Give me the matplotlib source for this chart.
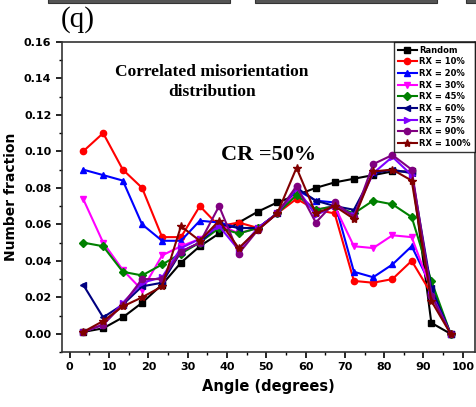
import matplotlib
matplotlib.use("Agg")
import matplotlib.pyplot as plt
from matplotlib.patches import Rectangle
from matplotlib.ticker import MultipleLocator, FormatStrFormatter

# Bin centres (degrees)
angles = [3.4, 8.5, 13.5, 18.4, 23.5, 28.3, 33.1, 38.0, 43.0, 47.9,
          52.8, 57.7, 62.6, 67.4, 72.3, 77.2, 82.1, 87.0, 92.0, 96.9]

random_ = [0.001, 0.003, 0.009, 0.017, 0.027, 0.039, 0.048, 0.055, 0.061, 0.067,
           0.072, 0.076, 0.080, 0.083, 0.085, 0.087, 0.089, 0.089, 0.006, 0.000]
rx10 = [0.100, 0.110, 0.090, 0.080, 0.053, 0.053, 0.070, 0.059, 0.061, 0.058,
        0.066, 0.074, 0.068, 0.066, 0.029, 0.028, 0.030, 0.040, 0.022, 0.000]
rx20 = [0.090, 0.087, 0.084, 0.060, 0.051, 0.051, 0.062, 0.061, 0.058, 0.058,
        0.066, 0.079, 0.073, 0.072, 0.034, 0.031, 0.038, 0.048, 0.026, 0.000]
rx30 = [0.074, 0.050, 0.035, 0.024, 0.043, 0.048, 0.052, 0.060, 0.055, 0.058,
        0.066, 0.077, 0.068, 0.070, 0.048, 0.047, 0.054, 0.053, 0.024, 0.000]
rx45 = [0.050, 0.048, 0.034, 0.032, 0.038, 0.044, 0.050, 0.058, 0.055, 0.058,
        0.066, 0.076, 0.068, 0.070, 0.066, 0.073, 0.071, 0.064, 0.029, 0.000]
rx60 = [0.027, 0.009, 0.016, 0.026, 0.028, 0.045, 0.050, 0.060, 0.058, 0.058,
        0.066, 0.080, 0.073, 0.070, 0.068, 0.088, 0.090, 0.088, 0.025, 0.000]
rx75 = [0.001, 0.005, 0.017, 0.028, 0.031, 0.047, 0.052, 0.059, 0.046, 0.058,
        0.066, 0.080, 0.065, 0.070, 0.065, 0.088, 0.097, 0.087, 0.022, 0.000]
rx90 = [0.001, 0.005, 0.016, 0.030, 0.030, 0.045, 0.050, 0.070, 0.044, 0.057,
        0.066, 0.081, 0.061, 0.072, 0.064, 0.093, 0.098, 0.090, 0.021, 0.000]
rx100 = [0.001, 0.007, 0.015, 0.020, 0.026, 0.059, 0.051, 0.062, 0.047, 0.057,
         0.066, 0.091, 0.066, 0.070, 0.063, 0.089, 0.090, 0.084, 0.018, 0.000]

series = [
    ("Random", random_, "#000000", "s"),
    ("RX = 10%", rx10, "#ff0000", "o"),
    ("RX = 20%", rx20, "#0000ff", "^"),
    ("RX = 30%", rx30, "#ff00ff", "v"),
    ("RX = 45%", rx45, "#008000", "D"),
    ("RX = 60%", rx60, "#000080", "<"),
    ("RX = 75%", rx75, "#8000ff", ">"),
    ("RX = 90%", rx90, "#800080", "o"),
    ("RX = 100%", rx100, "#800000", "*"),
]

fig = plt.figure(figsize=(4.76, 4.07), dpi=100)

# edges of the neighbouring panels above
for x0, w in [(0.101, 0.383), (0.536, 0.382), (0.98, 0.03)]:
    fig.add_artist(Rectangle((x0, 0.993), w, 0.01, transform=fig.transFigure,
                             facecolor="#555555", edgecolor="#333333",
                             linewidth=0.8))

ax = fig.add_axes([0.130, 0.135, 0.867, 0.762])

for label, vals, color, marker in series:
    ms = 6 if marker == "*" else 4.5
    ax.plot(angles, vals, color=color, marker=marker, markersize=ms,
            linewidth=1.5, label=label)

ax.set_xlim(-2, 103)
ax.set_ylim(-0.01, 0.16)
ax.xaxis.set_major_locator(MultipleLocator(10))
ax.xaxis.set_minor_locator(MultipleLocator(5))
ax.yaxis.set_minor_locator(MultipleLocator(0.01))
ax.yaxis.set_major_formatter(FormatStrFormatter("%.2f"))
ax.set_yticks([0.00, 0.02, 0.04, 0.06, 0.08, 0.10, 0.12, 0.14, 0.16])
ax.tick_params(which="major", direction="out", length=4, width=1.2,
               labelsize=8, top=False, right=False)
ax.tick_params(which="minor", direction="out", length=2.5, width=1,
               top=False, right=False)
for lab in ax.get_xticklabels() + ax.get_yticklabels():
    lab.set_fontweight("bold")
for sp in ax.spines.values():
    sp.set_linewidth(1.2)
    sp.set_color("#333333")

ax.set_xlabel("Angle (degrees)", fontsize=10.5, fontweight="bold", labelpad=5)
ax.set_ylabel("Number fraction", fontsize=10, fontweight="bold", labelpad=4)

ax.text(0.364, 0.871, "Correlated misorientation\ndistribution",
        transform=ax.transAxes, ha="center", va="center",
        family="Liberation Serif", fontweight="bold", fontsize=12.5,
        linespacing=1.3)
ax.text(0.502, 0.635, "CR =50%", transform=ax.transAxes, ha="center",
        va="center", family="Liberation Serif", fontweight="bold",
        fontsize=16)

fig.text(0.128, 0.952, "(q)", ha="left", va="center",
         family="Liberation Serif", fontsize=21)

leg = ax.legend(loc="upper right", frameon=True, fancybox=False,
                edgecolor="black", borderpad=0.45, labelspacing=0.32,
                handlelength=2.3, handletextpad=0.3, borderaxespad=0.0,
                prop={"weight": "bold", "size": 6})
leg.get_frame().set_linewidth(1.0)

fig.savefig("out.png", dpi=100)
